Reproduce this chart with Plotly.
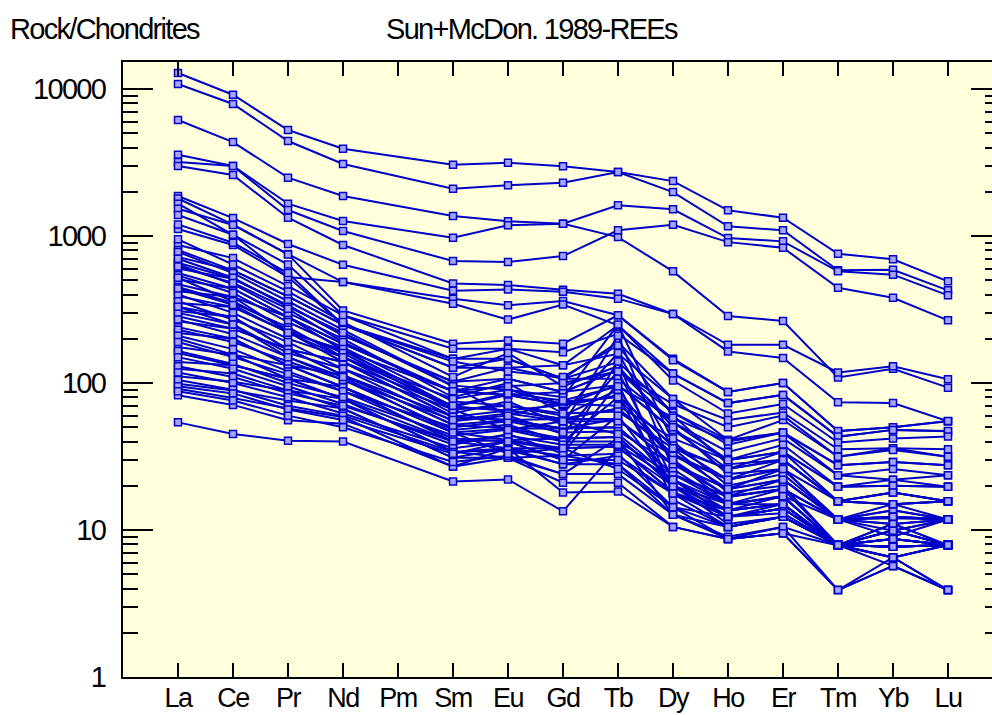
import plotly.graph_objects as go

elements = ["La", "Ce", "Pr", "Nd", "Pm", "Sm", "Eu", "Gd", "Tb", "Dy", "Ho", "Er", "Tm", "Yb", "Lu"]
y_tick_vals = [1, 10, 100, 1000, 10000]
y_tick_text = ["1", "10", "100", "1000", "10000"]

# chondrite-normalised values (Pm not analysed -> None), order as elements
# high, well separated samples
s_A = [12850, 9145, 5260, 3925, None, 3055, 3155, 2980, 2725, 2365, 1496, 1333, 758, 694, 492]
s_B = [10820, 7910, 4430, 3090, None, 2098, 2213, 2305, 2725, 1992, 1164, 1094, 584, 590, 427]
s_C = [6155, 4360, 2494, 1872, None, 1368, 1259, 1212, 1618, 1520, 969, 920, 575, 546, 395]
s_D = [3573, 2994, 1660, 1265, None, 974, 1183, 1212, 984, 575, 286, 264, 109, 125, 93]
s_E = [3186, 2994, 1503, 1082, None, 676, 666, 731, 1094, 1194, 909, 832, 445, 380, 267]
s_F = [2994, 2600, 1332, 869, None, 475, 464, 431, 405, 295, 182, 182, 118, 130, 106]
s_G = [1872, 1325, 883, 638, None, 424, 432, 417, 375, 295, 164, 148, 74, 73, 55]
s_H = [1800, 1194, 754, 486, None, 375, 338, 361, 289, 146, 87, 100, 47, 50, 55]
s_I = [1660, 1020, 526, 486, None, 346, 270, 342, 247, 116, 73, 83, 43, 48, 47]
s_L0 = [54, 45, 40.5, 40, None, 21.4, 22.1, 13.4, 36, 20, 11, 12.3, 7.9, 7.7, 7.9]

# main band
b01 = [1534, 1190, 750, 312, None, 185, 195, 185, 289, 143, 87, 100, 47.2, 50, 55.1]
b02 = [1390, 1020, 640, 289, None, 171, 171, 162, 216, 116, 73, 83, 43.3, 48, 47.2]
b03 = [1117, 870, 526, 249, None, 146, 171, 132, 247, 104, 62, 72, 39.4, 42, 43.3]
b04 = [870, 708, 457, 289, None, 146, 146, 107, 190, 78, 56, 63, 35.4, 36, 35.4]
b05 = [804, 584, 389, 249, None, 127, 127, 132, 158, 78, 41, 56, 31.5, 36, 31.5]
b06 = [720, 584, 389, 249, None, 127, 146, 107, 139, 63, 41, 46, 27.6, 29, 27.6]
b07 = [658, 512, 338, 211, None, 102, 107, 87, 122, 63, 38, 46, 23.6, 26, 23.6]
b08 = [600, 512, 338, 211, None, 102, 127, 107, 107, 54, 34, 42, 23.6, 22, 23.6]
b09 = [560, 438, 281, 185, None, 88, 107, 87, 122, 54, 30, 38, 19.7, 22, 19.7]
b10 = [508, 438, 281, 185, None, 88, 83, 87, 97, 48, 30, 34, 19.7, 20, 19.7]
b11 = [470, 385, 281, 167, None, 88, 83, 71, 97, 48, 26, 34, 15.7, 18, 15.7]
b12 = [421, 385, 222, 167, None, 69, 83, 71, 82, 37, 26, 30, 15.7, 18, 15.7]
b13 = [390, 329, 222, 167, None, 69, 65, 71, 82, 37, 22, 30, 15.7, 15, 15.7]
b14 = [350, 329, 222, 139, None, 69, 65, 57, 67, 33, 22, 26, 11.8, 15, 11.8]
b15 = [330, 281, 170, 139, None, 59, 65, 57, 67, 33, 19, 26, 11.8, 13.6, 11.8]
b16 = [309, 281, 170, 139, None, 59, 56, 57, 57, 28, 19, 22, 11.8, 13.6, 11.8]
b17 = [285, 234, 170, 113, None, 59, 56, 49, 57, 28, 17, 22, 11.8, 12.3, 11.8]
b18 = [263, 234, 170, 113, None, 52, 56, 49, 50, 24, 17, 19, 11.8, 12.3, 11.8]
b19 = [240, 200, 132, 113, None, 52, 49, 49, 50, 24, 15, 19, 7.9, 11, 7.9]
b20 = [219, 200, 132, 94, None, 46, 49, 42, 43, 20, 15, 17, 7.9, 11, 7.9]
b21 = [200, 156, 132, 94, None, 46, 41, 42, 43, 20, 13.6, 17, 7.9, 9.9, 7.9]
b22 = [176, 156, 107, 94, None, 40, 41, 36, 37, 18, 13.6, 15, 7.9, 9.9, 7.9]
b23 = [160, 132, 107, 78, None, 40, 36, 36, 37, 18, 12.3, 15, 7.9, 8.7, 7.9]
b24 = [139, 132, 107, 78, None, 34, 36, 32, 33, 14.3, 12.3, 14, 7.9, 8.7, 7.9]
b25 = [125, 116, 89, 78, None, 34, 31, 32, 28, 14.3, 10.5, 12.3, 7.9, 7.7, 7.9]
b26 = [111, 102, 89, 67, None, 31, 36, 28, 28, 12.7, 10.5, 12.3, 7.9, 7.7, 7.9]
b27 = [99, 89, 76, 67, None, 31, 31, 24, 24, 12.7, 8.7, 10.5, 7.9, 6.5, 3.9]
b28 = [91.5, 79, 67, 58.7, None, 27, 31, 21, 21, 10.5, 8.7, 9.5, 3.9, 5.7, 3.9]
b29 = [82.5, 71, 55.8, 52.9, None, 27, 36, 18, 18.3, 10.5, 8.7, 9.5, 7.9, 6.5, 7.9]

c01 = [1200, 900, 560, 249, None, 140, 120, 110, 180, 60, 28, 30, 15.7, 15, 15.7]
c02 = [950, 640, 420, 260, None, 110, 160, 95, 130, 50, 24, 26, 11.8, 12, 11.8]
c03 = [780, 560, 360, 230, None, 96, 90, 80, 250, 40, 20, 24, 11.8, 11, 11.8]
c04 = [640, 470, 300, 200, None, 80, 100, 62, 160, 36, 18, 20, 7.9, 9.9, 7.9]
c05 = [540, 410, 260, 175, None, 75, 70, 60, 90, 30, 16.8, 19, 11.8, 9, 11.8]
c06 = [450, 350, 240, 150, None, 62, 75, 52, 210, 26, 15, 16.8, 7.9, 8.7, 7.9]
c07 = [400, 300, 200, 150, None, 78, 90, 72, 70, 42, 29.8, 34, 19.7, 20, 19.7]
c08 = [360, 270, 190, 125, None, 55, 60, 45, 120, 22, 13.6, 15, 7.9, 7.7, 7.9]
c09 = [300, 250, 160, 125, None, 66, 70, 62, 64, 36, 26, 30, 15.7, 18, 15.7]
c10 = [270, 215, 150, 105, None, 48, 52, 40, 80, 20, 12.3, 14, 7.9, 6.5, 7.9]
c11 = [230, 190, 140, 105, None, 56, 62, 55, 55, 32, 22, 26, 15.7, 15, 15.7]
c12 = [210, 170, 120, 88, None, 42, 40, 35, 140, 17.7, 10.5, 12.3, 7.9, 5.7, 3.9]
c13 = [190, 150, 115, 88, None, 50, 55, 46, 47, 28, 19, 22, 11.8, 12.3, 11.8]
c14 = [165, 135, 100, 80, None, 44, 48, 40, 40, 23.6, 16.8, 19, 11.8, 11, 11.8]
c15 = [150, 125, 95, 72, None, 38, 45, 33, 100, 16, 10.5, 12.3, 7.9, 7.7, 7.9]
c16 = [130, 110, 85, 70, None, 40, 44, 38, 38, 22, 15, 17, 11.8, 9.9, 11.8]
c17 = [118, 100, 80, 62, None, 36, 40, 30, 60, 19.6, 12.3, 14, 7.9, 8.7, 7.9]
c18 = [105, 90, 70, 60, None, 34, 35, 28, 32, 17.7, 12.3, 14, 7.9, 8.7, 7.9]
c19 = [95, 85, 66, 56, None, 33, 40, 30, 30, 17.7, 13.6, 15, 7.9, 9.9, 11.8]
c20 = [88, 76, 60, 50, None, 29, 32, 24, 42, 12.7, 9, 10.5, 3.9, 6.5, 7.9]
c21 = [700, 520, 330, 220, None, 95, 60, 75, 80, 30, 15, 15, 7.9, 7.7, 7.9]
c22 = [520, 360, 230, 160, None, 66, 48, 55, 45, 22, 12.3, 13, 7.9, 6.5, 3.9]
c23 = [330, 250, 150, 110, None, 46, 33, 36, 26, 14.3, 8.7, 9.5, 3.9, 5.7, 3.9]
c24 = [620, 480, 320, 190, None, 88, 95, 100, 120, 72, 50, 60, 31.5, 35, 31.5]
c25 = [440, 340, 220, 150, None, 70, 85, 76, 95, 58, 40, 46, 27.6, 29, 27.6]

samples = [s_A, s_B, s_C, s_D, s_E, s_F, s_G, s_H, s_I, s_L0,
           b01, b02, b03, b04, b05, b06, b07, b08, b09, b10, b11, b12, b13, b14, b15,
           b16, b17, b18, b19, b20, b21, b22, b23, b24, b25, b26, b27, b28, b29,
           c01, c02, c03, c04, c05, c06, c07, c08, c09, c10, c11, c12, c13, c14, c15,
           c16, c17, c18, c19, c20, c21, c22, c23, c24, c25]

LINE = "#0000c8"
FILL = "#a4a4ff"


def tight(t, ls=-1.7):
    return '<span style="letter-spacing:%spx">%s</span>' % (ls, t)


fig = go.Figure()
xs = list(range(len(elements)))
for s in samples:
    fig.add_trace(go.Scatter(
        x=xs, y=s, mode="lines+markers", connectgaps=True,
        line=dict(color=LINE, width=2),
        marker=dict(symbol="square", size=7, color=FILL, line=dict(color=LINE, width=1.5)),
        showlegend=False, hoverinfo="skip"))

# dummy trace to activate right-hand axis
fig.add_trace(go.Scatter(x=[None], y=[None], yaxis="y2", showlegend=False, hoverinfo="skip"))

minor_vals = [m * d for d in [1, 10, 100, 1000, 10000] for m in range(2, 10)]
yr = [0, 4.184]
font = dict(family="Liberation Sans, Arial, sans-serif", size=29, color="black")
xfont = dict(family="Liberation Sans, Arial, sans-serif", size=27, color="black")

fig.update_layout(
    width=992, height=715,
    margin=dict(l=123, r=0, t=62, b=38, autoexpand=False),
    paper_bgcolor="white", plot_bgcolor="#ffffdc",
    font=font,
    xaxis=dict(range=[-1, 14.8], tickmode="array", tickvals=xs,
               ticktext=[tight(e, -1.4) for e in elements],
               ticks="inside", ticklen=14, tickwidth=2, tickcolor="black",
               showline=True, linewidth=2, linecolor="black", mirror="ticks",
               showgrid=False, zeroline=False, tickfont=xfont, ticklabelstandoff=-4,
               automargin=False),
    yaxis=dict(type="log", range=yr, tickmode="array", tickvals=y_tick_vals,
               ticktext=[tight(t) for t in y_tick_text],
               ticks="inside", ticklen=30, tickwidth=2, tickcolor="black",
               minor=dict(tickmode="array", tickvals=minor_vals, ticks="inside", ticklen=15,
                          tickwidth=2, tickcolor="black", showgrid=False),
               showline=True, linewidth=2, linecolor="black", mirror=False,
               showgrid=False, zeroline=False, tickfont=font, ticklabelstandoff=10,
               automargin=False),
    yaxis2=dict(type="log", range=yr, overlaying="y", side="right", tickmode="array",
                tickvals=y_tick_vals, ticks="inside", ticklen=21, tickwidth=2, tickcolor="black",
                minor=dict(tickmode="array", tickvals=minor_vals, ticks="inside", ticklen=7,
                           tickwidth=2, tickcolor="black", showgrid=False),
                showticklabels=False, showline=False, showgrid=False, zeroline=False,
                automargin=False),
    annotations=[
        dict(text=tight("Rock/Chondrites"), xref="paper", yref="paper", x=(8 - 123) / 869,
             y=(677 - 29) / 615, xanchor="left", yanchor="middle", showarrow=False, font=font),
        dict(text=tight("Sun+McDon. 1989-REEs"), xref="paper", yref="paper", x=(532 - 123) / 869,
             y=(677 - 29) / 615, xanchor="center", yanchor="middle", showarrow=False, font=font),
    ],
)

fig.write_html("out.html")
